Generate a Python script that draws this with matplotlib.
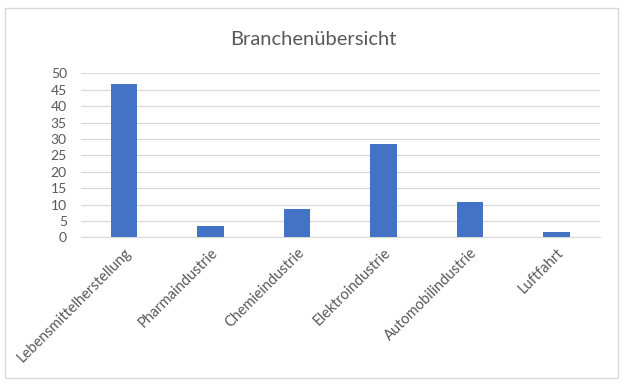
import matplotlib.pyplot as plt
from matplotlib.patches import Rectangle

branchen = ["Lebensmittelherstellung", "Pharmaindustrie", "Chemieindustrie",
            "Elektroindustrie", "Automobilindustrie", "Luftfahrt"]
werte = [46.6, 3.4, 8.6, 28.4, 10.7, 1.7]
y_ticks = [0, 5, 10, 15, 20, 25, 30, 35, 40, 45, 50]

plt.rcParams["font.family"] = ["Lato", "DejaVu Sans"]
grau = "#595959"

fig = plt.figure(figsize=(6.26, 3.88), dpi=100)
ax = fig.add_axes([0.129, 0.388, 0.829, 0.423])

x = range(len(branchen))
ax.bar(x, werte, width=0.31, color="#4472C4", zorder=3)

ax.set_ylim(0, 50)
ax.set_xlim(-0.5, len(branchen) - 0.5)
ax.set_yticks(y_ticks)
ax.set_xticks(list(x))
ax.set_xticklabels(branchen, rotation=45, ha="right", rotation_mode="anchor")
ax.tick_params(axis="both", length=0, colors=grau)
ax.tick_params(axis="x", pad=6, labelsize=10.5)
ax.tick_params(axis="y", pad=10, labelsize=10)
ax.grid(axis="y", color="#d9d9d9", linewidth=0.9, zorder=0)

for s in ["top", "right", "left"]:
    ax.spines[s].set_visible(False)
ax.spines["bottom"].set_color("#d9d9d9")

fig.text(0.5, 0.897, "Branchenübersicht", ha="center", va="center",
         fontsize=14.5, color=grau)

# light frame round the whole chart
fig.patches.append(Rectangle((0.008, 0.025), 0.98, 0.955, transform=fig.transFigure,
                             fill=False, edgecolor="#d9d9d9", linewidth=1))

fig.savefig("out.png", dpi=100)
